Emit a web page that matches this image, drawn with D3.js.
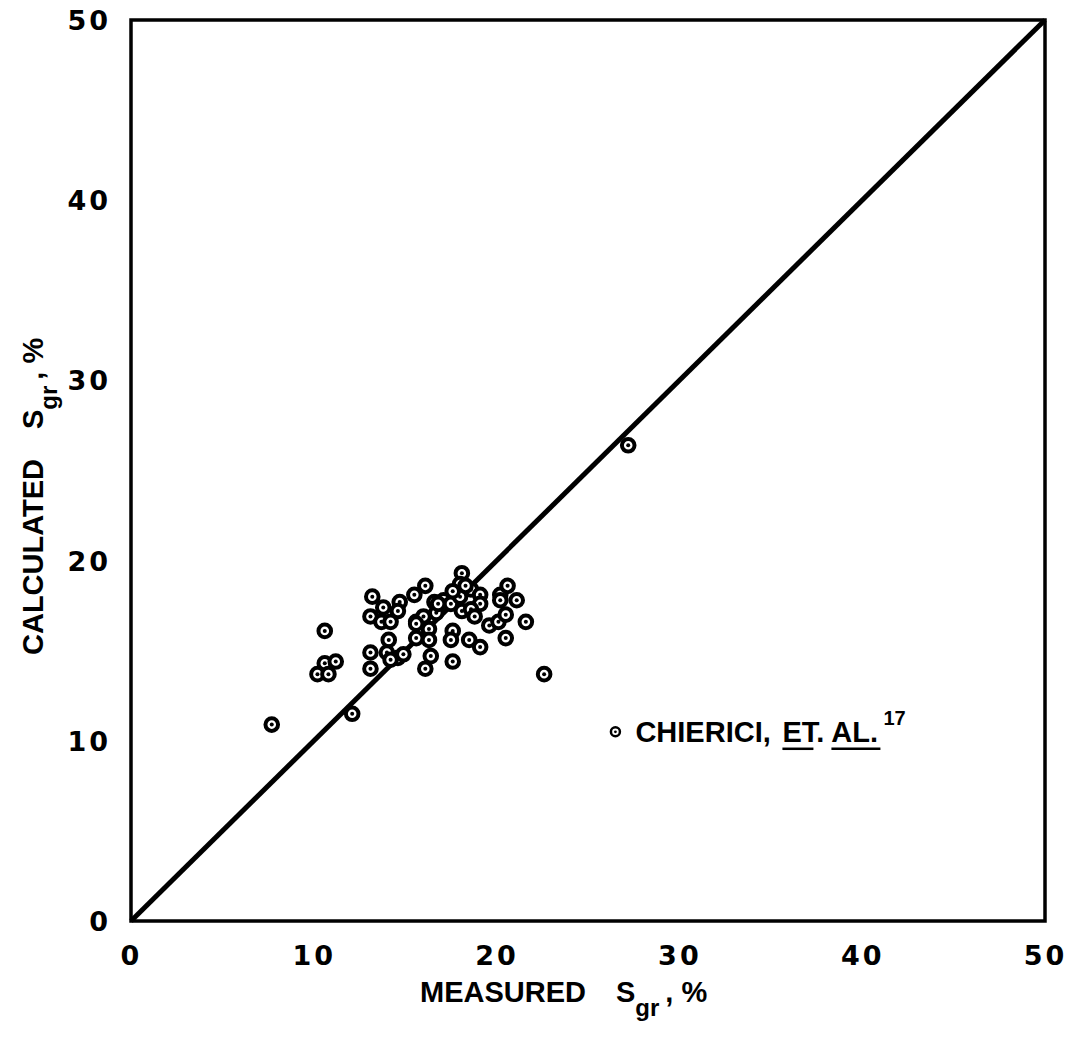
<!DOCTYPE html>
<html>
<head>
<meta charset="utf-8">
<script src="https://cdn.jsdelivr.net/npm/d3@7"></script>
<style>
  body { margin: 0; background: #fff; }
  svg { display: block; }
  .tick-label { font-family: "DejaVu Sans", sans-serif; font-weight: bold; font-size: 27px; letter-spacing: 3px; }
  .lab { font-family: "Liberation Sans Narrow", "Liberation Sans", sans-serif; font-weight: bold; font-size: 29px; }
</style>
</head>
<body>
<div id="chart"></div>
<script>
// measured vs calculated residual gas saturation, %
var measured = [7.7, 12.1, 27.2, 22.6, 10.6, 10.6, 11.2, 10.2, 10.8,
  13.2, 13.8, 14.7, 14.6, 13.1, 13.7, 14.2, 15.5, 15.6, 15.6, 14.1, 14.0, 13.1, 13.1, 14.6, 14.2, 14.9,
  18.1, 16.1, 17.1, 16.6, 17.5, 18.0, 18.6, 19.1, 19.1, 18.1, 18.6, 16.7, 16.0, 15.6, 16.3, 16.3, 16.4, 16.1,
  17.6, 17.5, 17.6, 18.5, 19.1, 19.6, 20.1, 20.2, 20.6, 20.5, 20.5, 20.2, 21.1, 21.6,
  18.0, 17.6, 16.8, 18.3, 18.8];
var calculated = [10.9, 11.5, 26.4, 13.7, 16.1, 14.3, 14.4, 13.7, 13.7,
  18.0, 17.4, 17.7, 17.2, 16.9, 16.6, 16.6, 18.1, 16.6, 15.7, 15.6, 14.9, 14.9, 14.0, 14.6, 14.5, 14.8,
  19.3, 18.6, 17.8, 17.7, 17.6, 18.0, 18.4, 18.1, 17.6, 17.2, 17.3, 17.1, 16.9, 16.5, 16.2, 15.6, 14.7, 14.0,
  16.1, 15.6, 14.4, 15.6, 15.2, 16.4, 16.6, 18.1, 18.6, 17.0, 15.7, 17.8, 17.8, 16.6,
  18.7, 18.3, 17.6, 18.6, 16.9];
var tickValues = [0, 10, 20, 30, 40, 50];
var oneToOne = [[0, 0], [50, 50]];

var width = 1066, height = 1041;
var margin = { top: 20, right: 21, bottom: 120, left: 131 };

var svg = d3.select('#chart').append('svg')
  .attr('width', width)
  .attr('height', height);

var x = d3.scaleLinear().domain([0, 50]).range([margin.left, width - margin.right]);
var y = d3.scaleLinear().domain([0, 50]).range([height - margin.bottom, margin.top]);

// frame
svg.append('rect')
  .attr('x', x(0)).attr('y', y(50))
  .attr('width', x(50) - x(0)).attr('height', y(0) - y(50))
  .attr('fill', 'none').attr('stroke', '#000').attr('stroke-width', 3.5);

// axes: labels only, no tick marks
var xAxis = g => g
  .attr('transform', `translate(0,${y(0)})`)
  .call(d3.axisBottom(x).tickValues(tickValues).tickSize(0).tickPadding(25))
  .call(g => g.select('.domain').remove());
var yAxis = g => g
  .attr('transform', `translate(${x(0)},0)`)
  .call(d3.axisLeft(y).tickValues(tickValues).tickSize(0).tickPadding(20))
  .call(g => g.select('.domain').remove());

svg.append('g').call(xAxis)
  .selectAll('text').attr('class', 'tick-label').attr('fill', '#000').attr('dy', '0.7em');
svg.append('g').call(yAxis)
  .selectAll('text').attr('class', 'tick-label').attr('fill', '#000').attr('dy', '0.35em');

// 1:1 line
svg.append('path')
  .datum(oneToOne)
  .attr('d', d3.line().x(d => x(d[0])).y(d => y(d[1])))
  .attr('stroke', '#000').attr('stroke-width', 5).attr('fill', 'none');

// points
var pts = measured.map((m, i) => ({ m: m, c: calculated[i] }));
var marks = svg.append('g').selectAll('g').data(pts).enter().append('g')
  .attr('transform', d => `translate(${x(d.m)},${y(d.c)})`);
marks.append('circle').attr('r', 6.3).attr('fill', '#fff').attr('stroke', '#000').attr('stroke-width', 4);
marks.append('circle').attr('r', 2).attr('fill', '#000');

// legend
var lg = svg.append('g').attr('transform', `translate(${x(26.5)},${y(10.5)})`);
lg.append('circle').attr('r', 4.5).attr('fill', '#fff').attr('stroke', '#000').attr('stroke-width', 2.5);
lg.append('circle').attr('r', 1.4).attr('fill', '#000');
lg.append('text').attr('class', 'lab').attr('x', 20).attr('y', 10).text('CHIERICI,');
lg.append('text').attr('class', 'lab').attr('x', 167).attr('y', 10).text('ET. AL.');
lg.append('text').attr('class', 'lab').attr('x', 268).attr('y', -7).style('font-size', '20px').text('17');
lg.append('line').attr('x1', 167).attr('x2', 198).attr('y1', 17).attr('y2', 17).attr('stroke', '#000').attr('stroke-width', 2.5);
lg.append('line').attr('x1', 216).attr('x2', 265).attr('y1', 17).attr('y2', 17).attr('stroke', '#000').attr('stroke-width', 2.5);

// x label
var xl = svg.append('text').attr('class', 'lab').attr('x', 420).attr('y', 1002);
xl.append('tspan').text('MEASURED');
xl.append('tspan').attr('dx', 30).text('S');
xl.append('tspan').attr('dy', 14).style('font-size', '24px').text('gr');
xl.append('tspan').attr('dy', -14).attr('dx', 6).text(', %');

// y label
var yl = svg.append('text').attr('class', 'lab')
  .attr('transform', 'translate(43,655) rotate(-90)');
yl.append('tspan').text('CALCULATED');
yl.append('tspan').attr('dx', 30).text('S');
yl.append('tspan').attr('dy', 14).style('font-size', '24px').text('gr');
yl.append('tspan').attr('dy', -14).attr('dx', 6).text(', %');
</script>
</body>
</html>
